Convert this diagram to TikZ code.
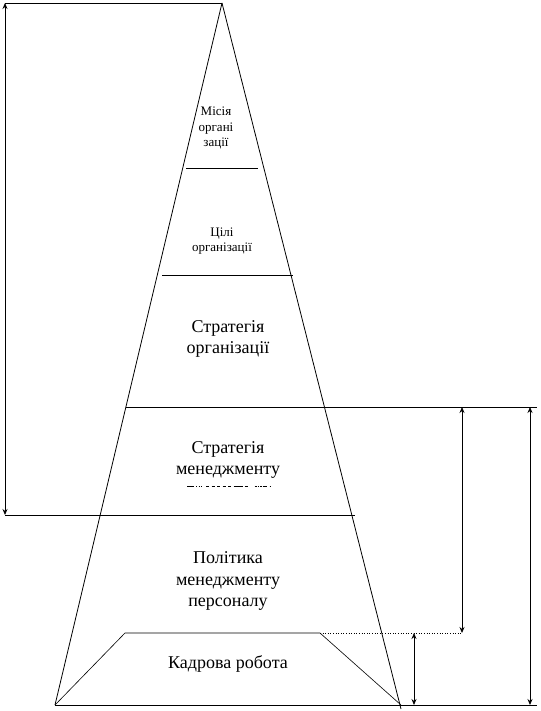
\documentclass[tikz,border=0pt]{standalone}
\usepackage{fontspec}
\setmainfont{Liberation Serif}
\newfontfamily\tnr{Liberation Serif}
\usetikzlibrary{arrows.meta}
\begin{document}
\begin{tikzpicture}[x=1pt,y=-1pt,line width=0.8pt,
  dbl/.style={{Stealth[length=6pt,width=5pt]}-{Stealth[length=6pt,width=5pt]},line width=0.8pt},
  thinline/.style={line width=0.6pt},
  smalltext/.style={font=\tnr\fontsize{13}{15.5}\selectfont,align=center,inner sep=0pt},
  bigtext/.style={font=\tnr\fontsize{18}{21.5}\selectfont,align=center,inner sep=0pt}]
\useasboundingbox (0,0) rectangle (540,711);
% pyramid
\coordinate (apex) at (222,3);
\coordinate (bl) at (55,705);
\coordinate (brt) at (401,709);
\coordinate (topl) at (5,3);
\coordinate (h1l) at (186,168);
\coordinate (h1r) at (258,168);
\coordinate (h2l) at (162,275);
\coordinate (h2r) at (293,275);
\coordinate (h3l) at (126,407);
\coordinate (h3r) at (537,407);
\coordinate (h4l) at (5,515);
\coordinate (h4r) at (355,515);
\coordinate (baser) at (537,705);
\coordinate (tl) at (125,633);
\coordinate (tr) at (320,633);
\coordinate (tb) at (401,705);
\coordinate (dotend) at (462,633);
\coordinate (a1t) at (462,407);
\coordinate (a1b) at (462,633);
\coordinate (a2t) at (530,407);
\coordinate (a2b) at (530,705);
\coordinate (a3t) at (414,633);
\coordinate (a3b) at (414,705);
\coordinate (dl) at (187,486);
\coordinate (dr) at (270,486);

\draw (apex) -- (bl);
\draw (apex) -- (brt);
\draw (topl) -- (apex);
\draw (h1l) -- (h1r);
\draw (h2l) -- (h2r);
\draw (h3l) -- (h3r);
\draw (h4l) -- (h4r);
\draw (bl) -- (baser);
\draw[thinline] (bl) -- (tl) -- (tr) -- (tb);
\draw[thinline,dotted] (tr) -- (dotend);
\draw[thinline,dash pattern=on 7pt off 2pt on 1pt off 1.5pt on 1pt off 1.5pt on 1pt off 4pt on 3pt off 2.5pt on 3pt off 2.5pt on 3pt off 2.5pt on 3pt off 2.5pt on 3pt off 2.5pt on 9pt off 2pt on 3pt] (dl) -- (dr);

% arrows
\draw[dbl] (topl) -- (h4l);
\draw[dbl] (a1t) -- (a1b);
\draw[dbl] (a2t) -- (a2b);
\draw[dbl] (a3t) -- (a3b);

% texts
\node[smalltext] (t1) at (216,128) {Місія\\органі\\зації};
\node[smalltext] (t2) at (222,241) {Цілі\\організації};
\node[bigtext] (t3) at (228,339) {Стратегія\\організації};
\node[bigtext] (t4) at (228,460) {Стратегія\\менеджменту};
\node[bigtext] (t5) at (228,581) {Політика\\менеджменту\\персоналу};
\node[bigtext] (t6) at (228,664) {Кадрова робота};
\end{tikzpicture}
\end{document}
